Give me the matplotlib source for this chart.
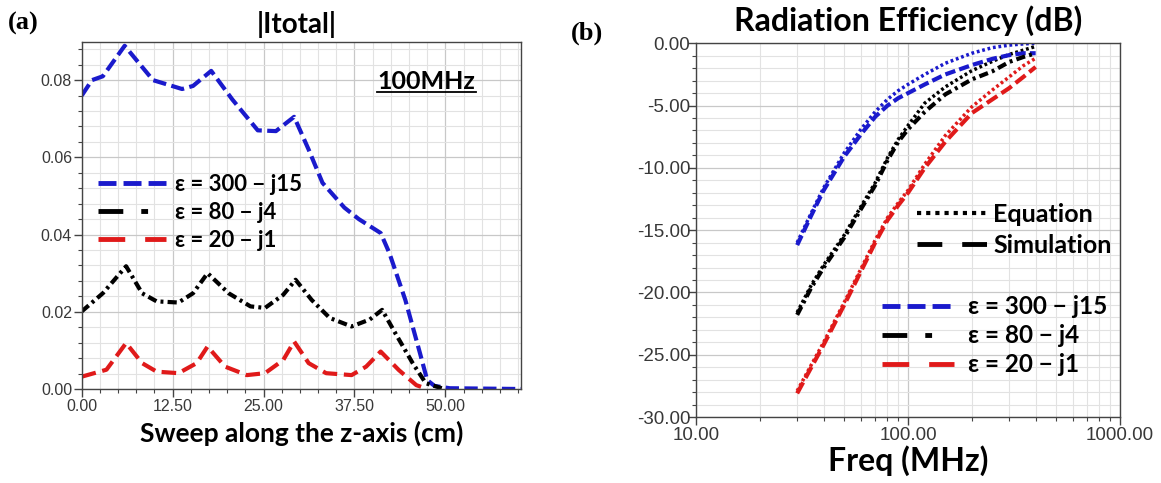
import matplotlib
matplotlib.use("Agg")
from matplotlib import pyplot as plt
from matplotlib.lines import Line2D
from matplotlib.ticker import MultipleLocator, FixedLocator, FuncFormatter, NullFormatter

# ---- panel (a): |Itotal| along z at 100 MHz ----
z_blue = [0, 1.4, 2.9, 5.9, 9.8, 13.8, 15.3, 17.8, 20.7, 24.2, 26.7, 29.2, 31.2, 33.1,
          36.1, 38.1, 41.1, 42.3, 44.5, 46.5, 47.5, 48.5, 50.6, 60.4]
i_blue = [0.076, 0.080, 0.081, 0.0889, 0.080, 0.0777, 0.0785, 0.0824, 0.075, 0.067, 0.0668,
          0.0705, 0.062, 0.0534, 0.047, 0.044, 0.0404, 0.0352, 0.023, 0.0093, 0.0023, 0.0008,
          0.0002, 0.0]
z_black = [0, 2.9, 6.1, 8.3, 10.3, 13.3, 15.3, 17.3, 20.2, 23.2, 25.2, 27.7, 29.4, 31.6,
           34.1, 37.1, 39.6, 41.3, 43.1, 45.5, 47.3, 49.5]
i_black = [0.0201, 0.0248, 0.0318, 0.0248, 0.0227, 0.0224, 0.0248, 0.030, 0.0248, 0.0214,
           0.021, 0.0244, 0.0283, 0.0231, 0.0184, 0.0162, 0.018, 0.0205, 0.0145, 0.0067,
           0.0015, 0.0002]
z_red = [0, 3.4, 6.1, 8.3, 10.3, 13.3, 15.8, 17.3, 19.7, 22.7, 25.2, 27.7, 29.2, 31.2,
         33.6, 37.1, 39.1, 41.1, 43.6, 46.0, 47.5]
i_red = [0.0032, 0.005, 0.0119, 0.0067, 0.0045, 0.0041, 0.0067, 0.011, 0.0058, 0.0036,
         0.0041, 0.0075, 0.0123, 0.0067, 0.0041, 0.0036, 0.0058, 0.0097, 0.0049, 0.001, 0.0]

# ---- panel (b): radiation efficiency vs frequency ----
freq = [30, 35, 40, 50, 60, 70, 80, 90, 100, 120, 150, 200, 250, 300, 350, 400]
sim_blue = [-16.2, -13.8, -11.8, -9.1, -7.3, -5.9, -5.0, -4.4, -4.0, -3.3, -2.5, -1.75,
            -1.25, -0.95, -0.8, -0.8]
eq_blue = [-16.0, -13.6, -11.6, -8.8, -6.9, -5.5, -4.5, -3.8, -3.3, -2.5, -1.6, -0.8,
           -0.35, -0.15, -0.05, 0.0]
sim_black = [-21.8, -19.6, -18.0, -15.6, -13.3, -11.4, -9.4, -7.9, -6.9, -5.5, -4.1, -2.9,
             -2.25, -1.5, -1.1, -0.8]
eq_black = [-21.6, -19.4, -17.8, -15.4, -13.1, -11.2, -9.2, -7.7, -6.6, -4.8, -3.5, -2.2,
            -1.45, -0.9, -0.55, -0.25]
sim_red = [-28.1, -26.0, -24.2, -21.0, -18.3, -16.0, -14.2, -13.0, -12.0, -10.0, -7.9, -5.6,
           -4.5, -3.6, -2.7, -1.9]
eq_red = [-27.9, -25.8, -24.0, -20.8, -18.1, -15.8, -14.0, -12.8, -11.8, -9.7, -7.4, -5.1,
          -3.75, -2.7, -1.8, -1.2]

labels_eps = ['ε = 300 − j15', 'ε = 80 − j4', 'ε = 20 − j1']

BLUE = '#1a1acc'
BLACK = '#000000'
RED = '#e01a1a'
TXT = '#383838'
FONT = ['Lato', 'DejaVu Sans']

plt.rcParams['font.family'] = ['Liberation Sans', 'DejaVu Sans']

fig = plt.figure(figsize=(11.61, 4.83), dpi=100)
ax1 = fig.add_axes([0.0704, 0.1946, 0.3784, 0.7178])
ax2 = fig.add_axes([0.5995, 0.1366, 0.3652, 0.7738])


def style_axes(ax, size, pad):
    ax.grid(True, which='major', color='#c8c8c8', lw=0.9)
    ax.grid(True, which='minor', color='#e2e2e2', lw=0.8)
    ax.set_axisbelow(True)
    for s in ax.spines.values():
        s.set_color('#444444')
        s.set_linewidth(1.0)
    ax.tick_params(which='major', direction='out', length=6, width=1, color='#444444',
                   labelsize=size, labelcolor=TXT, pad=pad)
    ax.tick_params(which='minor', direction='out', length=3, width=0.8, color='#444444')
    ax.tick_params(top=False, right=False, which='both')


# panel (a)
ax1.plot(z_blue, i_blue, color=BLUE, lw=3, dashes=(3.2, 1.3))
ax1.plot(z_red, i_red, color=RED, lw=3, dashes=(3.5, 1.6))
ax1.plot(z_black, i_black, color=BLACK, lw=3, dashes=(2.2, 1.0, 0.7, 1.0))
ax1.set_xlim(0, 60.4)
ax1.set_ylim(0, 0.0898)
ax1.xaxis.set_major_locator(MultipleLocator(12.5))
ax1.xaxis.set_minor_locator(MultipleLocator(2.5))
ax1.yaxis.set_major_locator(MultipleLocator(0.02))
ax1.yaxis.set_minor_locator(MultipleLocator(0.004))
ax1.xaxis.set_major_formatter(FuncFormatter(lambda v, p: '%.2f' % v))
ax1.yaxis.set_major_formatter(FuncFormatter(lambda v, p: '%.2f' % v))
style_axes(ax1, 11.5, 1)
ax1.set_title('|Itotal|', fontfamily=FONT, fontweight='bold', fontsize=20, pad=7, x=0.49)
ax1.set_xlabel('Sweep along the z-axis (cm)', fontfamily=FONT, fontweight='bold',
               fontsize=19, labelpad=5)
ax1.text(0.784, 0.886, '100MHz', transform=ax1.transAxes, ha='center', va='center',
         fontfamily=FONT, fontweight='bold', fontsize=18)
ax1.plot([0.672, 0.897], [0.8575, 0.8575], transform=ax1.transAxes, color='black', lw=1.3)

h_a = [Line2D([], [], color=BLUE, lw=3.5, dashes=(3.7, 1.45)),
       Line2D([], [], color=BLACK, lw=3.5, dashes=(5.1, 3.7, 1.4, 12)),
       Line2D([], [], color=RED, lw=3.5, dashes=(5.5, 4.1))]
ax1.legend(h_a, labels_eps, loc='center left', bbox_to_anchor=(0.037, 0.51),
           frameon=False, prop={'family': FONT, 'weight': 'bold', 'size': 15.9},
           handlelength=3.08, handletextpad=0.41, labelspacing=0.32, borderpad=0,
           borderaxespad=0)

# panel (b)
ax2.set_xscale('log')
ax2.plot(freq, eq_blue, color=BLUE, lw=2.5, dashes=(0.8, 0.8))
ax2.plot(freq, eq_black, color=BLACK, lw=2.5, dashes=(0.8, 0.8))
ax2.plot(freq, eq_red, color=RED, lw=2.5, dashes=(0.8, 0.8))
ax2.plot(freq, sim_blue, color=BLUE, lw=3, dashes=(2.5, 1.0))
ax2.plot(freq, sim_black, color=BLACK, lw=3, dashes=(2.2, 1.0, 0.7, 1.0))
ax2.plot(freq, sim_red, color=RED, lw=3, dashes=(3.0, 1.2))
ax2.set_xlim(10, 1000)
ax2.set_ylim(-30, 0)
ax2.xaxis.set_major_locator(FixedLocator([10, 100, 1000]))
ax2.xaxis.set_minor_locator(FixedLocator([20, 30, 40, 50, 60, 70, 80, 90,
                                          200, 300, 400, 500, 600, 700, 800, 900]))
ax2.xaxis.set_major_formatter(FuncFormatter(lambda v, p: '%.2f' % v))
ax2.xaxis.set_minor_formatter(NullFormatter())
ax2.yaxis.set_major_locator(MultipleLocator(5))
ax2.yaxis.set_minor_locator(MultipleLocator(1))
ax2.yaxis.set_major_formatter(FuncFormatter(lambda v, p: '%.2f' % v))
style_axes(ax2, 13.5, 1)
ax2.tick_params(axis='y', which='major', pad=-2)
ax2.set_title('Radiation Efficiency (dB)', fontfamily=FONT, fontweight='bold',
              fontsize=23, pad=9)
ax2.set_xlabel('Freq (MHz)', fontfamily=FONT, fontweight='bold', fontsize=23, labelpad=1)

h_b1 = [Line2D([], [], color=BLACK, lw=3, dashes=(1.0, 1.2)),
        Line2D([], [], color=BLACK, lw=3.5, dashes=(5.1, 4.1))]
leg1 = ax2.legend(h_b1, ['Equation', 'Simulation'], loc='center left',
                  bbox_to_anchor=(0.521, 0.50), frameon=False,
                  prop={'family': FONT, 'weight': 'bold', 'size': 18},
                  handlelength=2.85, handletextpad=0.2, labelspacing=0.32, borderpad=0,
                  borderaxespad=0)
ax2.add_artist(leg1)
h_b2 = [Line2D([], [], color=BLUE, lw=3.5, dashes=(3.7, 1.45)),
        Line2D([], [], color=BLACK, lw=3.5, dashes=(5.1, 3.7, 1.4, 12)),
        Line2D([], [], color=RED, lw=3.5, dashes=(5.5, 4.1))]
ax2.legend(h_b2, labels_eps, loc='center left', bbox_to_anchor=(0.4387, 0.217),
           frameon=False, prop={'family': FONT, 'weight': 'bold', 'size': 17.5},
           handlelength=2.96, handletextpad=0.58, labelspacing=0.25, borderpad=0,
           borderaxespad=0)

fig.text(8 / 1161, 1 - 23 / 483, '(a)', fontfamily=['Liberation Serif'], fontweight='bold',
         fontsize=19, va='center', ha='left')
fig.text(571 / 1161, 1 - 33 / 483, '(b)', fontfamily=['Liberation Serif'], fontweight='bold',
         fontsize=19, va='center', ha='left')

fig.savefig('out.png', dpi=100)
